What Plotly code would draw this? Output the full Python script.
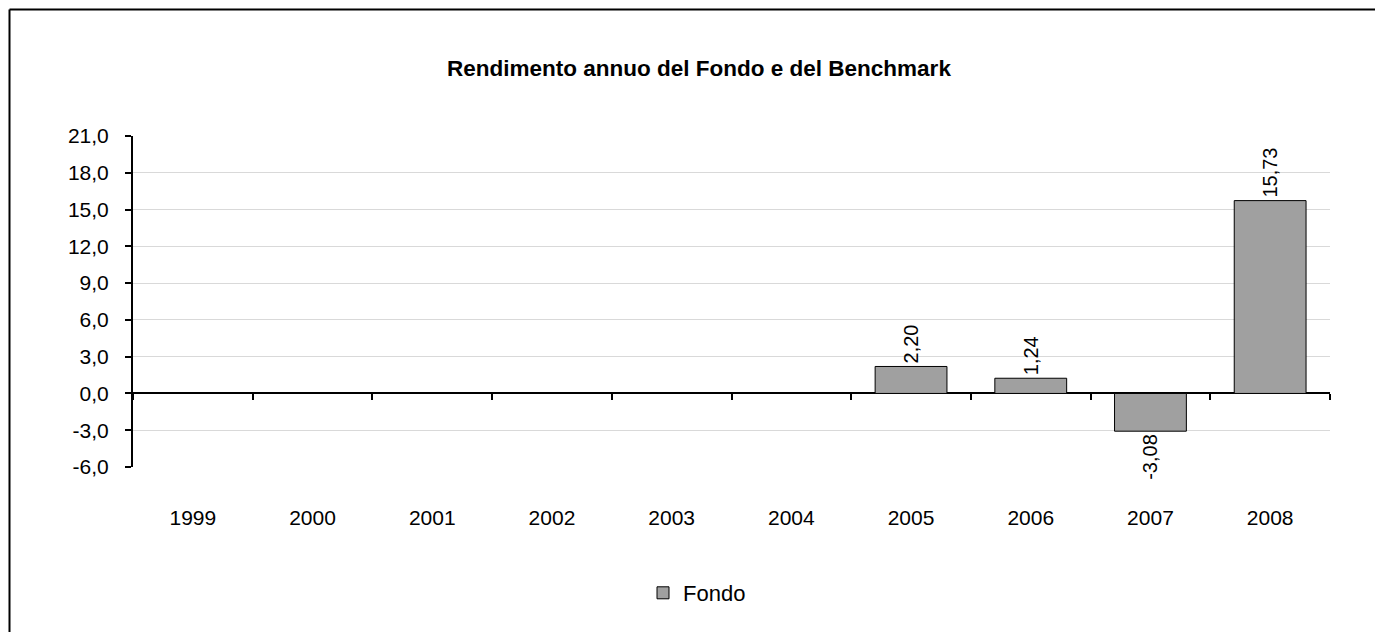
import plotly.graph_objects as go

years = ["1999", "2000", "2001", "2002", "2003", "2004", "2005", "2006", "2007", "2008"]
fondo = [None, None, None, None, None, None, 2.20, 1.24, -3.08, 15.73]
y_ticks = [-6, -3, 0, 3, 6, 9, 12, 15, 18, 21]
y_tick_labels = [f"{v:.1f}".replace(".", ",") for v in y_ticks]

OFF = 8  # page body margin
W, H = 1383 - OFF, 632 - OFF
ML, MR, MT, MB = 133 - OFF, W - (1330 - OFF), 136 - OFF, H - (467 - OFF)
pw = W - ML - MR
ph = H - MT - MB

def px_x(x):
    return (x - OFF - ML) / pw

def px_y(y):
    return (H - MB - (y - OFF)) / ph

font_family = "Liberation Sans, Arial, sans-serif"

fig = go.Figure()
fig.add_trace(go.Bar(
    x=years, y=fondo, name="Fondo",
    marker=dict(color="#a0a0a0", line=dict(color="#000000", width=1)),
    texttemplate="%{y:.2f}", textposition="outside", textangle=-90,
    textfont=dict(size=20, color="#000000", family=font_family),
    cliponaxis=False,
))
# dummy trace for tick marks on the zero line
fig.add_trace(go.Scatter(x=years, y=[0]*len(years), xaxis="x2", mode="none",
                         showlegend=False, hoverinfo="skip"))

ymin, ymax = y_ticks[0], y_ticks[-1]

fig.update_layout(
    width=W, height=H,
    margin=dict(l=ML, r=MR, t=MT, b=MB, autoexpand=False),
    paper_bgcolor="white", plot_bgcolor="white",
    separators=",.",
    bargap=0.4,
    font=dict(family=font_family, size=20, color="#000000"),
    title=dict(text="<b>Rendimento annuo del Fondo e del Benchmark</b>",
               x=(699 - OFF) / W, xref="container", xanchor="center",
               y=1 - (68 - OFF) / H, yref="container", yanchor="middle",
               font=dict(size=22.5, family=font_family, color="#000000")),
    showlegend=True,
    legend=dict(orientation="h", x=px_x(697), xanchor="center",
                y=px_y(593), yanchor="middle",
                font=dict(size=22, family=font_family), itemwidth=30),
    xaxis=dict(type="category", categoryorder="array", categoryarray=years,
               range=[-0.5, 9.5], showline=False, showgrid=False, ticks="",
               ticklabelstandoff=36, tickfont=dict(size=21), zeroline=False),
    xaxis2=dict(type="category", categoryorder="array", categoryarray=years,
                range=[-0.5, 9.5], overlaying="x", anchor="free",
                position=(0 - ymin) / (ymax - ymin),
                showline=False, showgrid=False, ticks="outside",
                tickson="boundaries", ticklen=6, tickwidth=2, tickcolor="#000000",
                showticklabels=False, zeroline=False),
    yaxis=dict(range=[ymin, ymax], tickvals=y_ticks, ticktext=y_tick_labels,
               showline=True, linecolor="#000000", linewidth=2,
               ticks="outside", ticklen=6, tickwidth=2, tickcolor="#000000",
               ticklabelstandoff=12,
               showgrid=True, gridcolor="#d9d9d9", gridwidth=1,
               zeroline=True, zerolinecolor="#000000", zerolinewidth=2,
               tickfont=dict(size=21)),
    shapes=[
        dict(type="line", xref="paper", yref="paper",
             x0=px_x(9.5), x1=px_x(1383 + 40), y0=px_y(9.5), y1=px_y(9.5),
             line=dict(color="#000000", width=2), layer="above"),
        dict(type="line", xref="paper", yref="paper",
             x0=px_x(9.5), x1=px_x(9.5), y0=px_y(632 + 40), y1=px_y(9.5),
             line=dict(color="#000000", width=2), layer="above"),
    ],
)

fig.write_html("out.html")
